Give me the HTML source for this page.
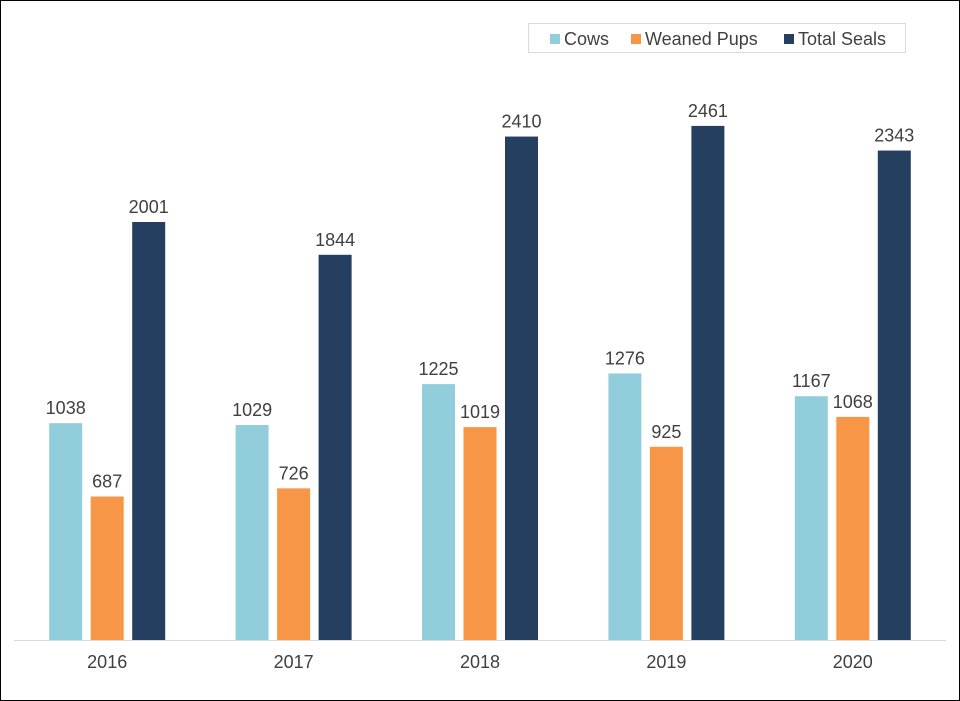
<!DOCTYPE html>
<html><head><meta charset="utf-8"><style>
html,body{margin:0;padding:0;background:#fff}
#wrap{position:relative;width:960px;height:701px;box-sizing:border-box;border:1px solid #000;overflow:hidden}
svg text{font-family:"Liberation Sans",Arial,sans-serif;fill:#404040}
</style></head><body>
<div id="wrap">
<svg id="chart" width="960" height="701" style="position:absolute;left:-1px;top:-1px">
  <g>
    <rect x="528.5" y="23.5" width="377" height="29" fill="#fff" stroke="#d9d9d9"/>
    <rect x="550" y="34" width="10" height="10" fill="#92cddc"/>
    <text x="564" y="45" font-size="18">Cows</text>
    <rect x="631" y="34" width="10" height="10" fill="#f79646"/>
    <text x="645" y="45" font-size="18">Weaned Pups</text>
    <rect x="784" y="34" width="10" height="10" fill="#243f60"/>
    <text x="798" y="45" font-size="18">Total Seals</text>
  </g>
  <g id="bars"></g>
  <line x1="14" y1="640.5" x2="946" y2="640.5" stroke="#d9d9d9"/>
  <g id="xlabels"></g>
</svg>
</div>
<script>
const categories = ["2016","2017","2018","2019","2020"];
const cows = [1038,1029,1225,1276,1167];
const weanedPups = [687,726,1019,925,1068];
const totalSeals = [2001,1844,2410,2461,2343];

const NS = "http://www.w3.org/2000/svg";
const baseY = 640, scale = 418/2001;
const plotLeft = 14, groupW = 186.4;
const barW = 33, offsets = [-41.5, 0, 41.5];
const seriesList = [
  {vals: cows, color: "#92cddc", name: "cows"},
  {vals: weanedPups, color: "#f79646", name: "weaned-pups"},
  {vals: totalSeals, color: "#243f60", name: "total-seals"}
];
function xCenter(i){ return plotLeft + groupW*(i+0.5); }
function yPos(v){ return baseY - v*scale; }

const barsG = document.getElementById("bars");
const labG = document.getElementById("xlabels");
categories.forEach((c,i)=>{
  seriesList.forEach((s,k)=>{
    const cx = xCenter(i) + offsets[k];
    const y = yPos(s.vals[i]);
    const r = document.createElementNS(NS,"rect");
    r.setAttribute("x", cx - barW/2);
    r.setAttribute("y", y);
    r.setAttribute("width", barW);
    r.setAttribute("height", baseY - y);
    r.setAttribute("fill", s.color);
    
    
    barsG.appendChild(r);
    const t = document.createElementNS(NS,"text");
    t.setAttribute("x", cx);
    t.setAttribute("y", y - 9);
    t.setAttribute("text-anchor","middle");
    t.setAttribute("font-size","18");
    t.textContent = s.vals[i];
    
    
    barsG.appendChild(t);
  });
  const t = document.createElementNS(NS,"text");
  t.setAttribute("x", xCenter(i));
  t.setAttribute("y", 668);
  t.setAttribute("text-anchor","middle");
  t.setAttribute("font-size","18");
  t.textContent = c;
  
  
  labG.appendChild(t);
});
</script>
</body></html>
